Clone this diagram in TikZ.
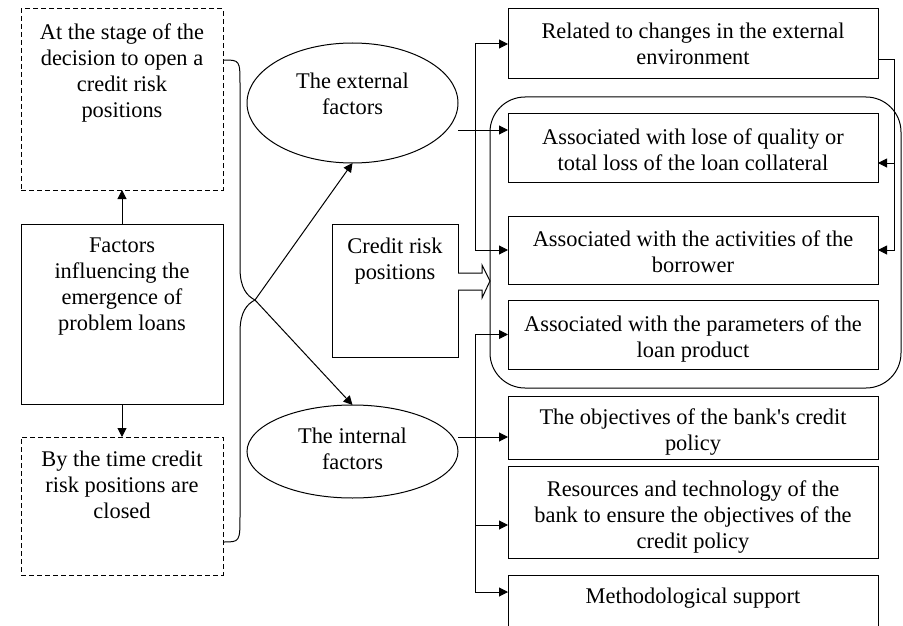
\documentclass[tikz,border=0pt]{standalone}
\usepackage{fontspec}
\setmainfont{Liberation Serif}
\usetikzlibrary{arrows.meta,calc,shapes.geometric}
\begin{document}
\begin{tikzpicture}[x=1pt,y=-1pt,line width=1pt,line join=miter,
  frame/.style={draw,rectangle,inner sep=0pt,outer sep=0pt},
  dframe/.style={frame,dash pattern=on 5pt off 3pt},
  oval/.style={draw,ellipse,inner sep=0pt,outer sep=0pt},
  txt/.style={anchor=north,inner sep=0pt,align=center,font=\fontsize{22.4}{26}\selectfont},
  arr/.style={-{Triangle[length=9pt,width=9pt]}}]
\useasboundingbox (0,0) rectangle (903,626);
\clip (0,0) rectangle (903,626);
% group frame
\node[draw,rounded corners=35pt,inner sep=0pt,outer sep=0pt,minimum width=411pt,minimum height=291pt] (grp) at (695.5,242.5) {};
% left column
\node[dframe,minimum width=202pt,minimum height=181pt] (topd) at (122,99.5) {};
\node[frame,minimum width=202pt,minimum height=180pt] (fac) at (122,314) {};
\node[dframe,minimum width=202pt,minimum height=138pt] (botd) at (122,506) {};
\node[txt] (topdt) at (122,23) {At the stage of the\\decision to open a\\credit risk\\positions};
\node[txt] (fact) at (122,237) {Factors\\influencing the\\emergence of\\problem loans};
\node[txt] (botdt) at (122,450) {By the time credit\\risk positions are\\closed};
% ellipses
\node[oval,minimum width=211pt,minimum height=120pt] (ext) at (352.5,103) {};
\node[oval,minimum width=211pt,minimum height=93pt] (int) at (352.5,451.5) {};
\node[txt] (extt) at (352.5,72) {The external\\factors};
\node[txt] (intt) at (352.5,427) {The internal\\factors};
% credit risk positions
\node[frame,minimum width=126pt,minimum height=133pt] (crp) at (395,290.5) {};
\node[txt] (crpt) at (395,237) {Credit risk\\positions};
% right boxes
\node[frame,minimum width=370pt,minimum height=70pt] (b1) at (693,44) {};
\node[frame,minimum width=370pt,minimum height=69pt] (b2) at (693,147.5) {};
\node[frame,minimum width=370pt,minimum height=68pt] (b3) at (693,250) {};
\node[frame,minimum width=370pt,minimum height=69pt] (b4) at (693,334.5) {};
\node[frame,minimum width=370pt,minimum height=63pt] (b5) at (693,427.5) {};
\node[frame,minimum width=370pt,minimum height=92pt] (b6) at (693,512) {};
\node[frame,minimum width=370pt,minimum height=75pt] (b7) at (693,612.5) {};
\node[txt] (b1t) at (693,22) {Related to changes in the external\\environment};
\node[txt] (b2t) at (693,128) {Associated with lose of quality or\\total loss of the loan collateral};
\node[txt] (b3t) at (693,230) {Associated with the activities of the\\borrower};
\node[txt] (b4t) at (693,315) {Associated with the parameters of the\\loan product};
\node[txt] (b5t) at (693,408) {The objectives of the bank\textquotesingle s credit\\policy};
\node[txt] (b6t) at (693,480) {Resources and technology of the\\bank to ensure the objectives of the\\credit policy};
\node[txt] (b7t) at (693,587) {Methodological support};
% vertical arrows on the left
\draw[arr] (fac.north) -- (topd.south);
\draw[arr] (fac.south) -- (botd.north);
% brace
\coordinate (tip) at (255,300);
\coordinate (bs) at ($(topd.north east)+(0,51)$);
\coordinate (be) at ($(botd.north east)+(0,105)$);
\draw (bs) .. controls (240,60) .. (240,85) -- (240,268) .. controls (240,288) and (247,296) .. (tip)
      .. controls (247,304) and (240,312) .. (240,332) -- (240,515) .. controls (240,542) .. (be);
\draw[arr] (tip) -- (ext.south);
\draw[arr] (tip) -- (int.north);
% external bus
\coordinate (j1) at (475,130);
\draw[arr] (ext.east |- j1) -- (j1 -| b2.west);
\draw[arr] (j1) |- (b1.west);
\draw[arr] (j1) |- (b3.west);
% right loop
\coordinate (r1) at (894,60);
\coordinate (r2) at (894,163);
\draw[arr] (b1.east |- r1) -- (r1) |- (b3.east);
\draw[arr] (r2) -- (r2 -| b2.east);
% internal bus
\coordinate (j2) at (475,437);
\draw[arr] (int.east |- j2) -- (j2 -| b5.west);
\draw[arr] (j2) |- (b4.west);
\draw[arr] (j2) |- ($(b6.west)+(0,13)$);
\draw[arr] (j2) |- ($(b7.north west)+(0,17)$);
% hollow arrow
\draw[fill=white] ($(crp.east)+(0,-17.5)$) -- ++(24,0) -- ++(0,-8) -- ++(8,16) -- ++(-8,17) -- ++(0,-8) -- ++(-24,0);
\end{tikzpicture}
\end{document}
